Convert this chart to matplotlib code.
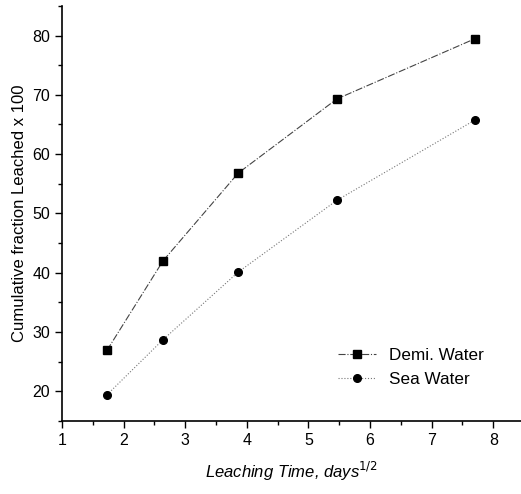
import matplotlib
matplotlib.use("Agg")
import matplotlib.pyplot as plt
from matplotlib.ticker import MultipleLocator

plt.rcParams['font.family'] = ['Liberation Sans', 'DejaVu Sans']

# leaching data
time_sqrt = [1.73, 2.64, 3.86, 5.46, 7.71]
demi_water = [26.9, 42.0, 56.8, 69.3, 79.5]
sea_water = [19.4, 28.7, 40.1, 52.2, 65.8]

fig = plt.figure(figsize=(5.21, 4.94), dpi=100)
ax = fig.add_axes([0.119, 0.148, 0.881, 0.840])

ax.plot(time_sqrt, demi_water, color='#444444', linestyle='-.', linewidth=0.8,
        marker='s', markersize=6, mfc='black', mec='black', label='Demi. Water')
ax.plot(time_sqrt, sea_water, color='#777777', linestyle=':', linewidth=0.8,
        marker='o', markersize=5.5, mfc='black', mec='black', label='Sea Water')

ax.set_xlim(1, 8.45)
ax.set_ylim(15, 85)
ax.xaxis.set_major_locator(MultipleLocator(1))
ax.xaxis.set_minor_locator(MultipleLocator(0.5))
ax.yaxis.set_major_locator(MultipleLocator(10))
ax.yaxis.set_minor_locator(MultipleLocator(5))
ax.yaxis.set_ticks([20, 30, 40, 50, 60, 70, 80])
ax.tick_params(which='major', length=5, width=1, labelsize=11.5)
ax.tick_params(which='minor', length=3, width=1)

ax.spines['top'].set_visible(False)
ax.spines['right'].set_visible(False)
ax.spines['left'].set_linewidth(1.2)
ax.spines['bottom'].set_linewidth(1.2)

ax.set_xlabel('Leaching Time, days$^{1/2}$', fontsize=12, style='italic', labelpad=9)
ax.set_ylabel('Cumulative fraction Leached x 100', fontsize=12)

ax.legend(loc='lower right', bbox_to_anchor=(0.935, 0.065), frameon=False,
          fontsize=12.3, handlelength=2.2, labelspacing=0.55, borderaxespad=0)

fig.savefig('out.png', dpi=100)
